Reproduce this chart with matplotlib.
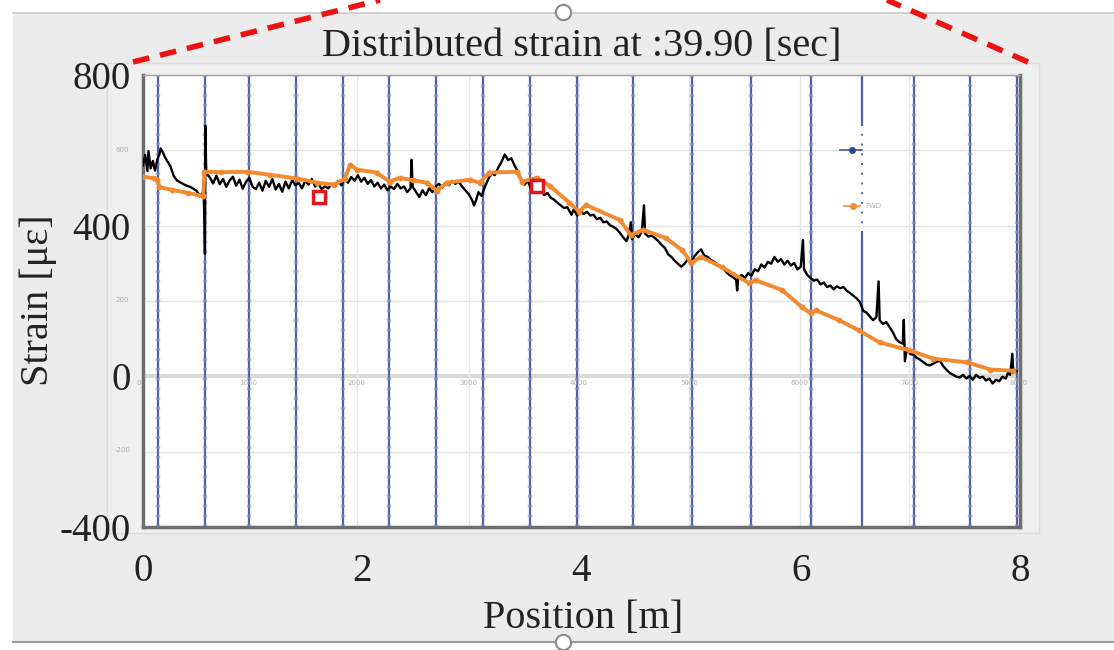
import numpy as np
import matplotlib.pyplot as plt
from matplotlib.lines import Line2D
from matplotlib.patches import Rectangle

plt.rcParams['axes.unicode_minus'] = False

# black measured strain (position [m], strain [ue])
black_x = [0.00, 0.02, 0.04, 0.05, 0.07, 0.09, 0.11, 0.13, 0.15, 0.16, 0.18, 0.20, 0.22, 0.25, 0.28,
           0.31, 0.34, 0.37, 0.40, 0.43, 0.46, 0.49, 0.52, 0.54, 0.555, 0.56, 0.565, 0.57, 0.575, 0.58,
           0.61, 0.64, 0.67, 0.70, 0.73, 0.76, 0.79, 0.82, 0.85, 0.88, 0.91, 0.94, 0.97, 1.00, 1.03,
           1.06, 1.09, 1.12, 1.15, 1.18, 1.21, 1.24, 1.27, 1.30, 1.33, 1.36, 1.39, 1.42, 1.45, 1.48,
           1.51, 1.54, 1.57, 1.60, 1.63, 1.66, 1.69, 1.72, 1.75, 1.78, 1.81, 1.84, 1.87, 1.90, 1.93,
           1.96, 1.99, 2.02, 2.05, 2.08, 2.11, 2.14, 2.17, 2.20, 2.23, 2.26, 2.29, 2.32, 2.35, 2.38,
           2.41, 2.44, 2.45, 2.46, 2.49, 2.52, 2.55, 2.58, 2.61, 2.64, 2.67, 2.70, 2.73, 2.76, 2.79,
           2.82, 2.85, 2.88, 2.91, 2.94, 2.97, 3.00, 3.02, 3.04, 3.06, 3.09, 3.12, 3.15, 3.18, 3.21,
           3.24, 3.27, 3.30, 3.33, 3.36, 3.39, 3.42, 3.45, 3.48, 3.51, 3.54, 3.57, 3.60, 3.63, 3.66,
           3.69, 3.72, 3.75, 3.78, 3.81, 3.84, 3.87, 3.89, 3.91, 3.93, 3.96, 3.99, 4.02, 4.05, 4.08,
           4.11, 4.14, 4.17, 4.20, 4.23, 4.26, 4.29, 4.32, 4.35, 4.38, 4.41, 4.43, 4.45, 4.46, 4.49,
           4.52, 4.55, 4.57, 4.58, 4.61, 4.64, 4.67, 4.70, 4.73, 4.76, 4.79, 4.82, 4.85, 4.88, 4.91,
           4.94, 4.97, 5.00, 5.03, 5.06, 5.09, 5.12, 5.15, 5.18, 5.21, 5.24, 5.27, 5.30, 5.33, 5.36,
           5.39, 5.41, 5.42, 5.43, 5.46, 5.49, 5.52, 5.55, 5.58, 5.61, 5.64, 5.67, 5.70, 5.73, 5.76,
           5.79, 5.82, 5.85, 5.88, 5.91, 5.94, 5.97, 6.00, 6.02, 6.03, 6.06, 6.09, 6.12, 6.15, 6.18,
           6.21, 6.24, 6.27, 6.30, 6.33, 6.36, 6.39, 6.42, 6.45, 6.48, 6.51, 6.54, 6.57, 6.60, 6.63,
           6.66, 6.69, 6.71, 6.72, 6.75, 6.78, 6.81, 6.84, 6.87, 6.90, 6.93, 6.94, 6.95, 6.97, 7.00,
           7.03, 7.06, 7.09, 7.12, 7.15, 7.18, 7.21, 7.24, 7.27, 7.30, 7.33, 7.36, 7.39, 7.42, 7.45,
           7.48, 7.51, 7.54, 7.57, 7.60, 7.63, 7.66, 7.69, 7.72, 7.75, 7.78, 7.81, 7.84, 7.87, 7.89,
           7.91, 7.93, 7.94, 7.97]
black_y = [560, 588, 545, 598, 552, 572, 546, 575, 590, 605, 595, 582, 572, 558, 532,
           520, 515, 510, 506, 503, 498, 492, 478, 486, 472, 420, 325, 665, 560, 538,
           528, 512, 533, 510, 524, 503, 520, 530, 506, 522, 498, 517, 527, 503, 497,
           514, 493, 519, 503, 524, 496, 511, 490, 517, 499, 521, 507, 514, 499, 519,
           509, 524, 504, 511, 497, 504, 499, 511, 504, 519, 507, 524, 514, 529, 519,
           534, 517, 527, 511, 521, 504, 514, 499, 509, 494, 504, 497, 511, 499, 504,
           489, 499, 575, 503, 490, 476, 494, 481, 499, 489, 504, 511, 501, 514, 507,
           519, 511, 517, 504, 494, 484, 469, 454, 469, 489, 479, 504, 524, 539, 534,
           554, 569, 589, 574, 579, 559, 544, 524, 509, 519, 497, 504, 489, 494, 481,
           487, 474, 469, 461, 454, 447, 449, 439, 429, 444, 427, 439, 431, 437, 427,
           429, 417, 421, 409, 411, 401, 397, 391, 381, 369, 359, 374, 409, 364, 379,
           369, 384, 454, 379, 371, 374, 367, 359, 349, 341, 324, 317, 307, 299, 291,
           299, 311, 297, 319, 329, 337, 321, 317, 309, 304, 297, 289, 284, 274, 267,
           261, 257, 228, 261, 269, 261, 274, 267, 284, 279, 297, 289, 304, 299, 317,
           304, 311, 297, 307, 294, 301, 284, 291, 362, 284, 269, 261, 254, 257, 244,
           249, 237, 241, 231, 239, 234, 237, 227, 221, 214, 207, 197, 174, 169, 159,
           149, 157, 252, 149, 139, 144, 131, 117, 99, 91, 87, 150, 40, 74, 59,
           57, 49, 44, 37, 31, 29, 34, 39, 41, 27, 17, 9, 4, -1, -3,
           4, -6, 1, -9, 4, -4, -1, -11, -6, -19, -9, -13, -1, -6, 9,
           4, 60, 9, 14]

# orange FWD series
fwd_x = [0.00, 0.10, 0.13, 0.15, 0.26, 0.41, 0.55, 0.56, 0.71, 0.95, 1.16, 1.41, 1.59, 1.74, 1.84,
         1.89, 1.95, 2.13, 2.25, 2.34, 2.46, 2.59, 2.68, 2.77, 2.98, 3.07, 3.16, 3.41, 3.46, 3.59,
         3.71, 3.89, 3.98, 4.04, 4.35, 4.45, 4.56, 4.77, 4.92, 5.00, 5.09, 5.28, 5.53, 5.59, 5.83,
         6.01, 6.09, 6.14, 6.35, 6.53, 6.72, 6.99, 7.21, 7.52, 7.73, 7.94]
fwd_y = [530, 526, 522, 503, 495, 487, 478, 543, 542, 543, 535, 525, 514, 509, 524,
         562, 549, 541, 517, 527, 521, 514, 493, 514, 522, 514, 541, 543, 517, 527,
         506, 461, 437, 455, 415, 375, 389, 367, 335, 301, 317, 290, 247, 255, 229,
         184, 167, 175, 149, 122, 90, 69, 47, 37, 18, 15]

# sensor positions (blue verticals)
sensor_x = [0.14, 0.57, 0.97, 1.40, 1.82, 2.24, 2.67, 3.10, 3.53, 3.96, 4.47, 5.01,
            5.55, 6.09, 6.56, 7.03, 7.54, 7.97]

# red square markers
mark_x = [1.61, 3.59]
mark_y = [475, 504]

# faint inner (underlying) axis labels
inner_xlabels = ['1000', '2000', '3000', '4000', '5000', '6000', '7000', '8000']
inner_xpos = [0.96, 1.95, 2.97, 3.97, 4.98, 5.99, 6.99, 7.99]
inner_ylabels = ['600', '200', '-200']
inner_ypos = [600, 202, -196]

W, H = 1114, 650
fig = plt.figure(figsize=(W / 100, H / 100), dpi=100)
fig.patch.set_facecolor('white')


def fx(px):
    return px / W


def fy(py):
    return 1 - py / H


# grey window panel
fig.add_artist(Rectangle((fx(13), fy(642)), fx(1101), 629 / H, transform=fig.transFigure,
                         fc='#ececec', ec='none', zorder=-3))
fig.add_artist(Rectangle((fx(107), fy(533)), fx(932), 470 / H, transform=fig.transFigure,
                         fc='#efefef', ec='#dcdcdc', lw=1, zorder=-2))
fig.add_artist(Line2D([fx(13), 1], [fy(13), fy(13)], transform=fig.transFigure,
                      color='#c8c8c8', lw=1.2, zorder=-1))
fig.add_artist(Line2D([fx(13), 1], [fy(642), fy(642)], transform=fig.transFigure,
                      color='#9a9a9a', lw=1.5, zorder=-1))

ax = fig.add_axes([fx(143), fy(527), fx(877), 452 / H])
ax.set_facecolor('white')
ax.set_xlim(0, 8)
ax.set_ylim(-400, 800)

# grid
for gy in [600, 400, 200, -200]:
    ax.axhline(gy, color='#e4e4e4', lw=1, zorder=0.5)
ax.axhline(0, color='#dadada', lw=3, zorder=0.5)
for gx in inner_xpos[:-1]:
    ax.axvline(gx, color='#e6e6e6', lw=1, zorder=0.5)

# sensor lines
for sx in sensor_x:
    if sx == 6.56:
        ax.axvline(sx, ymin=0, ymax=(380 + 400) / 1200, color='#4f63a8', lw=1.6, zorder=1)
        ax.axvline(sx, ymin=(666 + 400) / 1200, ymax=1, color='#4f63a8', lw=1.6, zorder=1)
        ax.axvline(sx, ymin=(380 + 400) / 1200, ymax=(666 + 400) / 1200,
                   color='#4f63a8', lw=1.4, ls=(0, (1, 4)), zorder=1)
    else:
        ax.axvline(sx, color='#4f63a8', lw=1.6, zorder=1)
        ax.axvline(sx, color='#8796cc', lw=3.2, ls=(0, (0.6, 1.6)), alpha=0.6, zorder=1)

for lab, gx in zip(inner_xlabels, inner_xpos):
    ax.text(gx, -18, lab, fontsize=5, color='#b0b0b0', ha='center', va='center', zorder=1)
ax.text(-0.04, -18, '0', fontsize=5, color='#b0b0b0', ha='center', va='center', clip_on=False)
for lab, gy in zip(inner_ylabels, inner_ypos):
    ax.text(-0.19, gy, lab, fontsize=5, color='#b0b0b0', ha='center', va='center', clip_on=False)

# data
ax.plot(black_x, black_y, color='black', lw=1.7, zorder=3)
ax.plot(fwd_x, fwd_y, color='#f28a30', lw=2.8, marker='o', ms=3.2, zorder=4)
ax.plot(mark_x, mark_y, ls='none', marker='s', ms=9, mfc='white', mec='#e3161d', mew=2.5, zorder=5)

# leftover legend fragments
ax.plot([6.36, 6.56], [600, 600], color='#3f5596', lw=1.2, zorder=4)
ax.plot([6.47], [600], marker='o', ms=4, color='#2f4a8a', zorder=4)
ax.plot([6.39, 6.54], [451, 451], color='#f5a060', lw=1.5, zorder=4)
ax.plot([6.48], [451], marker='o', ms=4, color='#f28a30', zorder=4)
ax.text(6.59, 451, 'FWD', fontsize=5, color='#b5b5b5', va='center', zorder=4)

serif = 'Liberation Serif'
ax.set_xticks([0, 2, 4, 6, 8])
ax.set_yticks([-400, 0, 400, 800])
ax.tick_params(axis='both', length=0, labelsize=28, labelcolor='#222222')
ax.tick_params(axis='x', pad=19)
ax.tick_params(axis='y', pad=9)
for lab in ax.get_xticklabels() + ax.get_yticklabels():
    lab.set_family(serif)

ax.set_title('Distributed strain at :39.90 [sec]', fontsize=29, family=serif,
             color='#222222', pad=14)
ax.set_xlabel('Position [m]', fontsize=29, family=serif, color='#222222')
ax.xaxis.set_label_coords((583 - 143) / 877, (527 - 600) / 452)
ax.set_ylabel('Strain [με]', fontsize=29, family=serif, color='#222222')
ax.yaxis.set_label_coords((57 - 143) / 877, (527 - 300) / 452)

for side in ['left', 'bottom', 'right']:
    ax.spines[side].set_color('#6e6e6e')
    ax.spines[side].set_linewidth(2.5)
ax.spines['top'].set_color('#a0a0a0')
ax.spines['top'].set_linewidth(1)

# red dashed zoom guides
fig.add_artist(Line2D([fx(133), fx(380)], [fy(62), fy(0)], transform=fig.transFigure,
                      color='#ee1111', lw=4, ls=(0, (3, 2)), zorder=6))
fig.add_artist(Line2D([fx(1028), fx(887)], [fy(62), fy(0)], transform=fig.transFigure,
                      color='#ee1111', lw=4, ls=(0, (3, 2)), zorder=6))

# handle circles
for cy in [12, 642]:
    fig.add_artist(Line2D([fx(563)], [fy(cy)], transform=fig.transFigure, marker='o', ms=11,
                          mfc='white', mec='#8a8a8a', mew=1.5, zorder=6))

fig.savefig('out.png', dpi=100)
